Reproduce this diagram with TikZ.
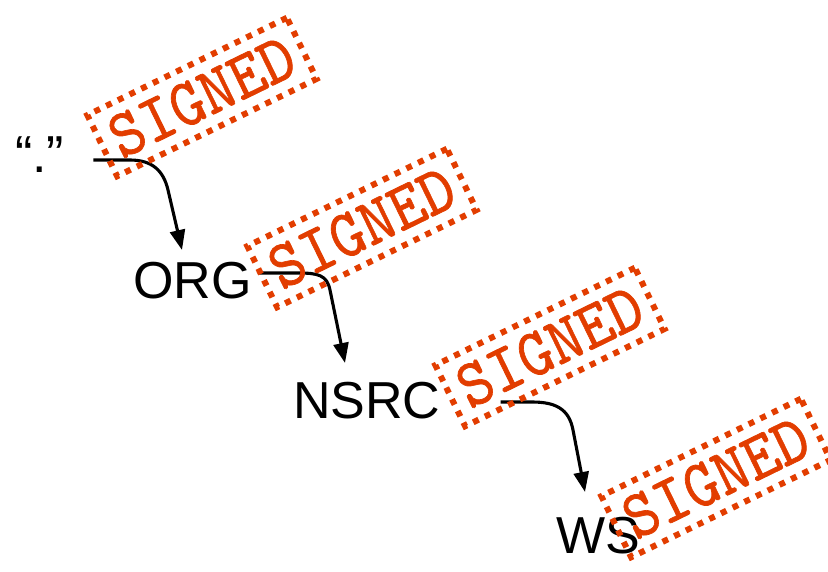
\documentclass[tikz,border=0pt]{standalone}
\usepackage{fontspec}
\usepackage{graphicx}
\setmainfont{Liberation Sans}
\newfontfamily\stampfont{lmmono10-regular.otf}[FakeBold=1.0]
\usetikzlibrary{arrows.meta,calc}
\definecolor{stampred}{RGB}{226,61,0}
\newcommand{\stamptext}{\scalebox{0.93}[1]{SIGNED}}
\tikzset{
  lbl/.style={font=\fontsize{52}{60}\selectfont, inner sep=0pt, anchor=base west},
  stamp/.style={draw=stampred, line width=6pt, dash pattern=on 6pt off 7pt,
    minimum width=222pt, minimum height=68pt, inner sep=0pt, rotate=26,
    text=stampred, font=\stampfont\fontsize{68}{68}\selectfont},
  link/.style={line width=3.1pt, -{Triangle[length=20pt,width=15pt]}}
}
\begin{document}
\begin{tikzpicture}[x=1pt,y=1pt]
\useasboundingbox (0,0) rectangle (828,-571);
% labels
\node[lbl] (root) at (15,-172) {“.”};
\node[lbl] (org) at (133,-298) {ORG};
\node[lbl] (nsrc) at (293,-418) {NSRC};
\node[lbl] (ws) at (556,-553) {WS};
% links
\draw[link] ([shift={(29pt,12pt)}]root.base east) -- (130,-160)
  .. controls (152,-160) and (163.5,-170.5) .. (168,-190)
  -- ([shift={(49pt,48pt)}]org.base west);
\draw[link] ([shift={(6.5pt,25pt)}]org.base east) -- (298,-273)
  .. controls (318,-273) and (327,-275) .. (330,-290)
  -- ([shift={(52pt,55pt)}]nsrc.base west);
\draw[link] ([shift={(60pt,16pt)}]nsrc.base east) -- (532,-402)
  .. controls (555,-402) and (569,-408.5) .. (573,-430)
  -- ([shift={(29pt,61pt)}]ws.base west);
% stamps
\node[stamp] (s1) at (202,-97) {\stamptext};
\node[stamp] (s2) at (362,-228) {\stamptext};
\node[stamp] (s3) at (550,-347) {\stamptext};
\node[stamp] (s4) at (716,-478) {\stamptext};
\end{tikzpicture}
\end{document}
